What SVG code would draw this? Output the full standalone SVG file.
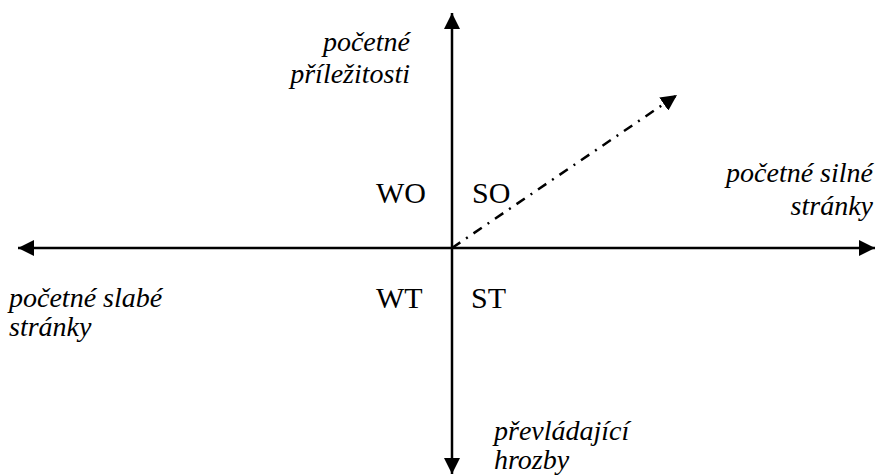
<svg xmlns="http://www.w3.org/2000/svg" width="879" height="475" viewBox="0 0 879 475">
<style>
.lbl{font-size:28px;font-style:italic;fill:#000}
.q{font-size:30px;fill:#000}
.ax{stroke:#000;stroke-width:2.5;fill:none}
.dd{stroke:#000;stroke-width:2.5;fill:none;stroke-dasharray:10,7,2,7}
</style>
<defs>
<marker id="ah" viewBox="0 0 10 10" refX="10" refY="5" markerUnits="userSpaceOnUse" markerWidth="16" markerHeight="16" orient="auto"><path d="M0,0 L10,5 L0,10 Z" fill="#000"/></marker>
</defs>
<rect width="879" height="475" fill="#fff"/>
<g id="connectors">
<line class="ax" x1="452" y1="248" x2="452" y2="13" marker-end="url(#ah)"/>
<line class="ax" x1="452" y1="248" x2="452" y2="474" marker-end="url(#ah)"/>
<line class="ax" x1="452" y1="248" x2="18" y2="248" marker-end="url(#ah)"/>
<line class="ax" x1="452" y1="248" x2="875" y2="248" marker-end="url(#ah)"/>
<line class="dd" x1="452" y1="248" x2="677" y2="95" marker-end="url(#ah)"/>
</g>
<g font-family="Liberation Serif, Times New Roman, DejaVu Serif, serif">
<g id="top-label"><text class="lbl" x="410" y="51" text-anchor="end">početné</text><text class="lbl" x="410" y="83" text-anchor="end">příležitosti</text></g>
<g id="right-label"><text class="lbl" x="873" y="182" text-anchor="end">početné silné</text><text class="lbl" x="873" y="215" text-anchor="end">stránky</text></g>
<g id="left-label"><text class="lbl" x="9" y="307">početné slabé</text><text class="lbl" x="9" y="336">stránky</text></g>
<g id="bottom-label"><text class="lbl" x="494" y="440">převládající</text><text class="lbl" x="494" y="469">hrozby</text></g>
<g id="WO"><text class="q" x="376" y="203">WO</text></g>
<g id="SO"><text class="q" x="472" y="203">SO</text></g>
<g id="WT"><text class="q" x="376" y="308">WT</text></g>
<g id="ST"><text class="q" x="471" y="308">ST</text></g>
</g>
</svg>
